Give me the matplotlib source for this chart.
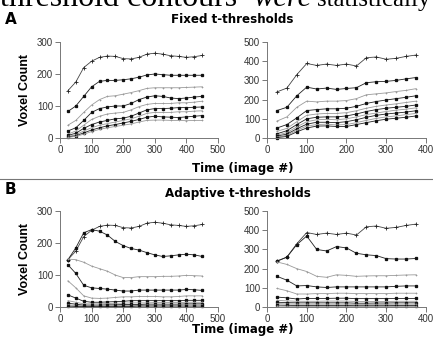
import matplotlib.pyplot as plt

# x positions (image #)
x_left = [25, 50, 75, 100, 125, 150, 175, 200, 225, 250, 275, 300, 325, 350, 375, 400, 425, 450]
x_right = [25, 50, 75, 100, 125, 150, 175, 200, 225, 250, 275, 300, 325, 350, 375]

# A: fixed t-thresholds, left run
fixed_left = [
    [148, 175, 220, 240, 252, 256, 255, 248, 247, 252, 262, 265, 262, 257, 255, 252, 254, 258],
    [83, 100, 130, 160, 177, 180, 180, 182, 185, 190, 197, 200, 198, 196, 196, 196, 196, 196],
    [40, 55, 80, 103, 120, 130, 132, 137, 142, 148, 155, 157, 157, 157, 157, 158, 159, 160],
    [22, 32, 55, 80, 92, 97, 100, 100, 108, 120, 128, 132, 130, 125, 123, 125, 128, 130],
    [12, 22, 40, 58, 68, 75, 78, 80, 88, 98, 105, 108, 108, 108, 110, 110, 112, 115],
    [8, 15, 30, 42, 50, 55, 60, 62, 68, 78, 88, 92, 92, 93, 95, 95, 96, 97],
    [5, 10, 22, 32, 40, 45, 50, 55, 60, 68, 77, 80, 80, 80, 82, 82, 84, 85],
    [3, 7, 16, 25, 32, 38, 42, 47, 52, 58, 65, 68, 66, 65, 64, 66, 68, 70],
    [2, 5, 12, 20, 27, 32, 36, 40, 44, 50, 55, 56, 56, 55, 55, 54, 55, 55],
]

# A: fixed t-thresholds, right run
fixed_right = [
    [240, 260, 330, 388, 378, 385, 378, 385, 375, 418, 422, 410, 415, 425, 432],
    [143, 160, 220, 265, 255, 260, 253, 258, 262, 288, 293, 295, 300, 308, 315],
    [88, 110, 160, 192, 188, 192, 192, 195, 205, 225, 230, 235, 242, 248, 257],
    [52, 70, 105, 143, 148, 152, 152, 155, 165, 180, 190, 198, 205, 212, 220],
    [35, 50, 85, 118, 125, 128, 128, 132, 142, 155, 165, 172, 178, 185, 192],
    [22, 38, 70, 100, 108, 110, 110, 115, 125, 138, 148, 155, 160, 165, 172],
    [15, 28, 58, 85, 95, 97, 95, 100, 110, 122, 130, 138, 145, 150, 157],
    [10, 20, 48, 72, 82, 82, 80, 85, 95, 108, 118, 125, 130, 135, 142],
    [5, 14, 40, 62, 70, 72, 68, 70, 80, 92, 102, 110, 115, 122, 128],
    [2, 8, 32, 52, 62, 63, 60, 60, 70, 80, 90, 98, 103, 108, 115],
]

# B: adaptive t-thresholds, left run
adaptive_left = [
    [148, 175, 220, 240, 252, 256, 255, 248, 247, 252, 262, 265, 262, 257, 255, 252, 254, 258],
    [148, 185, 232, 242, 237, 225, 205, 192, 183, 178, 170, 163, 158, 160, 163, 165, 163, 158],
    [150, 148, 140, 128, 120, 112, 100, 92, 92, 95, 95, 95, 96, 96, 97, 99, 98, 97],
    [132, 105, 68, 60, 58, 56, 53, 50, 50, 53, 53, 53, 53, 53, 53, 55, 54, 52],
    [82, 60, 35, 28, 27, 28, 30, 32, 32, 33, 33, 33, 32, 32, 33, 35, 35, 35],
    [38, 28, 18, 15, 15, 16, 17, 18, 20, 20, 20, 20, 20, 20, 20, 21, 21, 21],
    [20, 15, 10, 10, 10, 11, 12, 12, 13, 13, 13, 14, 14, 14, 14, 15, 15, 15],
    [12, 9, 6, 6, 6, 7, 7, 8, 8, 8, 9, 9, 9, 9, 9, 10, 10, 10],
    [7, 5, 4, 4, 4, 4, 5, 5, 5, 5, 6, 6, 6, 6, 6, 7, 7, 7],
    [3, 2, 2, 2, 2, 2, 2, 2, 2, 3, 3, 3, 3, 3, 3, 3, 3, 3],
]

# B: adaptive t-thresholds, right run
adaptive_right = [
    [240, 260, 330, 388, 378, 385, 378, 385, 375, 418, 422, 410, 415, 425, 432],
    [238, 260, 325, 370, 300, 292, 315, 308, 280, 272, 268, 252, 250, 250, 253],
    [235, 222, 200, 185, 160, 155, 168, 165, 160, 162, 163, 163, 165, 167, 168],
    [160, 140, 110, 112, 105, 102, 105, 105, 105, 105, 105, 105, 108, 110, 110],
    [97, 85, 68, 68, 70, 70, 72, 72, 70, 70, 70, 70, 72, 72, 72],
    [52, 48, 42, 45, 45, 45, 46, 46, 44, 44, 44, 44, 45, 45, 45],
    [35, 32, 30, 30, 30, 31, 31, 31, 29, 29, 29, 29, 30, 30, 30],
    [25, 23, 22, 22, 22, 22, 22, 22, 20, 20, 21, 21, 22, 22, 22],
    [18, 16, 15, 15, 15, 15, 15, 15, 14, 14, 14, 14, 15, 15, 15],
    [10, 9, 8, 8, 8, 8, 8, 8, 7, 7, 7, 7, 8, 8, 8],
    [5, 4, 3, 3, 3, 3, 3, 3, 3, 3, 3, 3, 3, 3, 3],
]

plt.rcParams['font.family'] = ['Liberation Sans', 'DejaVu Sans']

fig = plt.figure(figsize=(4.33, 3.45), dpi=100)


def panel(rect, xs, series, xmax, ymax, ylabel):
    ax = fig.add_axes(rect)
    for i, ys in enumerate(series):
        if i == 0:
            # top curve: dark line, small crosses
            ax.plot(xs, ys, color='#444444', lw=0.6, marker='+', ms=2.2,
                    mew=0.6, mec='#222222', clip_on=False)
        elif i % 2 == 1:
            ax.plot(xs, ys, color='#222222', lw=0.6, marker='s', ms=1.4,
                    mec='#111111', mfc='#111111', clip_on=False)
        else:
            ax.plot(xs, ys, color='#9a9a9a', lw=0.6, marker='+', ms=2.0,
                    mew=0.5, mec='#999999', clip_on=False)
    ax.set_xlim(0, xmax)
    ax.set_ylim(0, ymax)
    ax.set_xticks(range(0, xmax + 1, 100))
    ax.set_yticks(range(0, ymax + 1, 100))
    for s in ['top', 'right']:
        ax.spines[s].set_visible(False)
    for s in ['left', 'bottom']:
        ax.spines[s].set_color('#777777')
        ax.spines[s].set_linewidth(0.7)
    ax.tick_params(direction='out', length=3.5, width=0.7, color='#777777',
                   labelsize=7, labelcolor='#333333', pad=1.5)
    if ylabel:
        ax.set_ylabel('Voxel Count', fontsize=9, fontweight='bold', labelpad=4)
    return ax


panel([0.1386, 0.600, 0.3649, 0.2783], x_left, fixed_left, 500, 300, True)
panel([0.6166, 0.600, 0.3672, 0.2783], x_right, fixed_right, 400, 500, False)
panel([0.1386, 0.110, 0.3649, 0.2783], x_left, adaptive_left, 500, 300, True)
panel([0.6166, 0.110, 0.3672, 0.2783], x_right, adaptive_right, 400, 500, False)

# cut-off line of body text above the figure (only its lower part shows)
base = 1 - 6 / 345
fig.text(0.0, base, 'threshold contours', family='Liberation Serif',
         fontsize=23, va='baseline', ha='left')
fig.text(253 / 433, base, 'were', family='Liberation Serif',
         style='italic', fontsize=22, va='baseline', ha='left')
fig.text(431 / 433, base, 'statistically', family='Liberation Serif',
         fontsize=18, va='baseline', ha='right')

fig.text(5 / 433, 1 - 23.5 / 345, 'A', family='DejaVu Sans', fontsize=11,
         fontweight='bold', va='baseline')
fig.text(232 / 433, 1 - 23 / 345, 'Fixed t-thresholds', family='DejaVu Sans',
         fontsize=8.6, fontweight='bold', va='baseline', ha='center')
fig.text(243 / 433, 1 - 172 / 345, 'Time (image #)', family='DejaVu Sans',
         fontsize=8.5, fontweight='bold', va='baseline', ha='center')

fig.add_artist(plt.Line2D([0, 1], [1 - 179.5 / 345] * 2, color='#777777', lw=0.8))

fig.text(5 / 433, 1 - 194 / 345, 'B', family='DejaVu Sans', fontsize=11,
         fontweight='bold', va='baseline')
fig.text(238 / 433, 1 - 197 / 345, 'Adaptive t-thresholds', family='DejaVu Sans',
         fontsize=8.6, fontweight='bold', va='baseline', ha='center')
fig.text(243 / 433, 1 - 333 / 345, 'Time (image #)', family='DejaVu Sans',
         fontsize=8.5, fontweight='bold', va='baseline', ha='center')

fig.savefig('out.png', dpi=100)
